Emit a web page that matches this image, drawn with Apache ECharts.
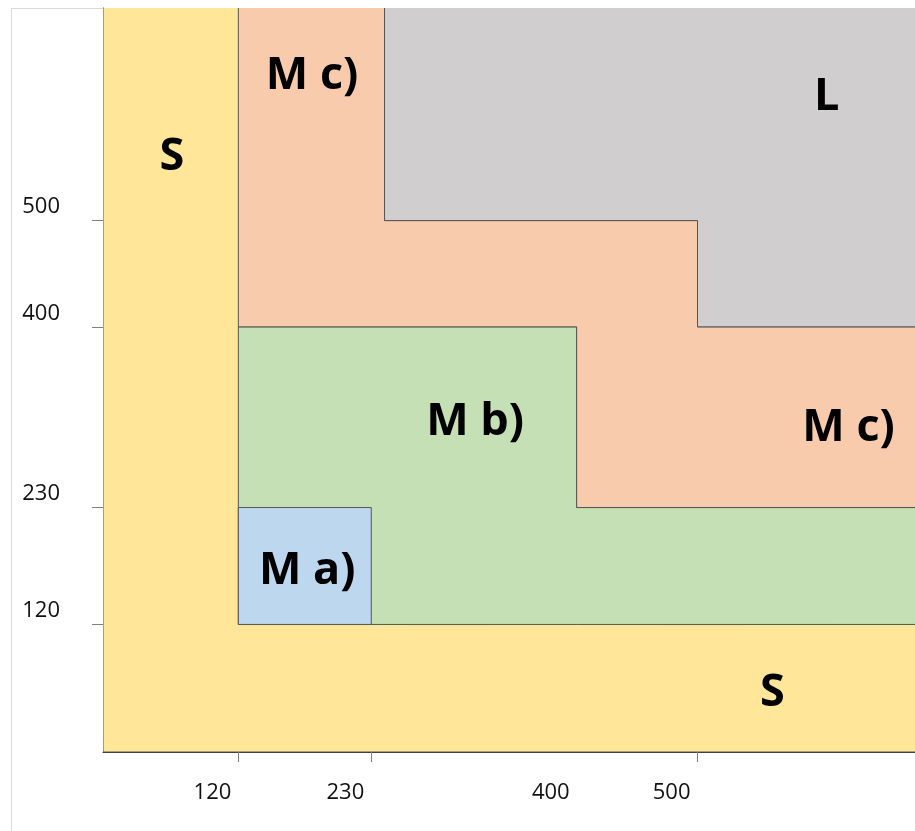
<!DOCTYPE html>
<html><head><meta charset="utf-8">
<script src="https://cdn.jsdelivr.net/npm/echarts@6/dist/echarts.min.js"></script>
<style>html,body{margin:0;padding:0;background:#fff}#c{width:915px;height:831px}</style>
</head><body><div id="c"></div>
<script>
// axis ranges (data units)
const xRange = [8, 680];
const yRange = [0, 700];
// ticks and tick labels
const xTickValues = [120, 230, 500];
const xLabelValues = [120, 230, 400, 500];
const yTickValues = [120, 230, 400, 500];
const yLabelValues = [120, 230, 400, 500];
// regions (polygons in data units; they run past the axis ends and are clipped)
const regionNames = ['S', 'M b)', 'M a)', 'M c)', 'L'];
const regionS  = [[8,0],[720,0],[720,740],[8,740]];
const regionMb = [[120,120],[720,120],[720,230],[400,230],[400,400],[120,400]];
const regionMa = [[120,120],[230,120],[230,230],[120,230]];
const regionMc = [[120,400],[400,400],[400,230],[720,230],[720,400],[500,400],[500,500],[241,500],[241,740],[120,740]];
const regionL  = [[241,500],[500,500],[500,400],[720,400],[720,740],[241,740]];
const regionColors = ['#FFE699','#C5E0B4','#BDD7EE','#F8CBAD','#D0CECE'];
// region captions
const captionText = ['S','M c)','L','M b)','M c)','M a)','S'];
const captionX = [65, 181, 607, 316, 625, 177, 562];
const captionY = [560, 636, 616, 310, 305, 170, 55];

const regions = [regionS, regionMb, regionMa, regionMc, regionL];

const chart = echarts.init(document.getElementById('c'), null, {renderer: 'canvas'});
chart.setOption({
  animation: false,
  backgroundColor: '#fff',
  graphic: {elements: [{
    type: 'rect', z: -100,
    shape: {x: 11.5, y: 8.5, width: 2000, height: 2000},
    style: {fill: 'none', stroke: '#D9D9D9', lineWidth: 1}
  }]},
  grid: {left: 103, top: 8, right: 0, bottom: 79, containLabel: false},
  xAxis: {
    type: 'value', min: xRange[0], max: xRange[1],
    splitLine: {show: false},
    axisLine: {show: true, lineStyle: {color: '#404040', width: 1}},
    axisTick: {show: true, customValues: xTickValues, length: 10, lineStyle: {color: '#808080'}},
    axisLabel: {
      show: true, customValues: xLabelValues, margin: 30,
      align: 'right', padding: [0, 7, 0, 0],
      fontFamily: 'Open Sans', fontSize: 22, color: '#111'
    }
  },
  yAxis: {
    type: 'value', min: yRange[0], max: yRange[1],
    splitLine: {show: false},
    axisLine: {show: true, lineStyle: {color: '#404040', width: 1}},
    axisTick: {show: true, customValues: yTickValues, length: 11, lineStyle: {color: '#808080'}},
    axisLabel: {
      show: true, customValues: yLabelValues, margin: 43,
      verticalAlign: 'bottom', lineHeight: 27,
      fontFamily: 'Open Sans', fontSize: 22, color: '#111'
    }
  },
  series: [
    {
      type: 'custom', clip: true, z: 1,
      data: regionNames.map((n, i) => ({name: n, value: [i]})),
      renderItem: function (params, api) {
        const pts = regions[params.dataIndex].map(p => api.coord(p));
        return {
          type: 'polygon',
          shape: {points: pts},
          style: {fill: regionColors[params.dataIndex], stroke: '#555555', lineWidth: 1}
        };
      }
    },
    {
      type: 'custom', clip: true, z: 5,
      data: captionX.map((x, i) => [x, captionY[i]]),
      renderItem: function (params, api) {
        const p = api.coord([api.value(0), api.value(1)]);
        return {
          type: 'text', x: p[0], y: p[1],
          style: {
            text: captionText[params.dataIndex],
            fontFamily: 'Open Sans', fontWeight: 'bold', fontSize: 45,
            fill: '#000', align: 'center', verticalAlign: 'middle'
          }
        };
      }
    }
  ]
});
</script></body></html>
